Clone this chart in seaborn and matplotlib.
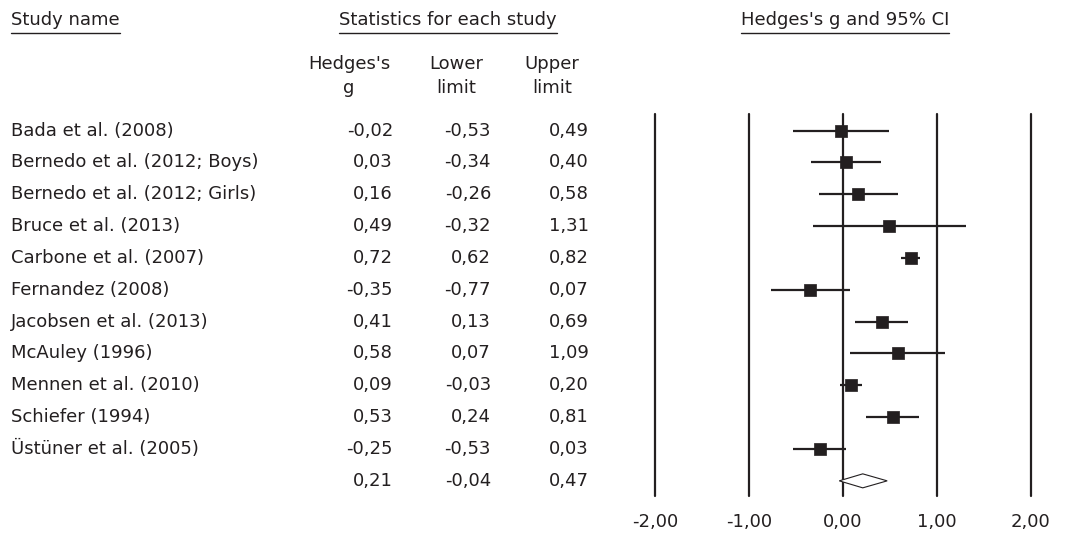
import matplotlib
matplotlib.use("Agg")
import matplotlib.pyplot as plt
import matplotlib.transforms as mtransforms
from matplotlib.lines import Line2D
from matplotlib.patches import Polygon
import seaborn as sns
import pandas as pd

# Study-level effect sizes (Hedges's g) with 95% confidence limits
studies = [
    "Bada et al. (2008)",
    "Bernedo et al. (2012; Boys)",
    "Bernedo et al. (2012; Girls)",
    "Bruce et al. (2013)",
    "Carbone et al. (2007)",
    "Fernandez (2008)",
    "Jacobsen et al. (2013)",
    "McAuley (1996)",
    "Mennen et al. (2010)",
    "Schiefer (1994)",
    "Üstüner et al. (2005)",
]
hedges_g = [-0.02, 0.03, 0.16, 0.49, 0.72, -0.35, 0.41, 0.58, 0.09, 0.53, -0.25]
lower = [-0.53, -0.34, -0.26, -0.32, 0.62, -0.77, 0.13, 0.07, -0.03, 0.24, -0.53]
upper = [0.49, 0.40, 0.58, 1.31, 0.82, 0.07, 0.69, 1.09, 0.20, 0.81, 0.03]

# Pooled estimate
pooled_g = 0.21
pooled_lower = -0.04
pooled_upper = 0.47

x_ticks = [-2, -1, 0, 1, 2]

W, H = 1072, 533
INK = "#231f20"
FS = 13

sns.set_theme(style="white")
plt.rcParams["font.family"] = ["DejaVu Sans"]
plt.rcParams["text.color"] = INK

fig = plt.figure(figsize=(W / 100, H / 100), dpi=100)
fig.patch.set_facecolor("white")

# Forest-plot panel, placed in pixel terms
ax_left, ax_right, ax_top, ax_bottom = 655, 1031, 114.3, 496
ax = fig.add_axes([ax_left / W, 1 - ax_bottom / H,
                   (ax_right - ax_left) / W, (ax_bottom - ax_top) / H])

row0, row_step = 130.5, 31.85
ax.set_xlim(-2, 2)
ax.set_ylim((ax_bottom - row0) / row_step, (ax_top - row0) / row_step)

df = pd.DataFrame({"study": studies, "g": hedges_g, "lo": lower, "hi": upper,
                   "row": range(len(studies))})

# Reference lines at each tick
for xv in x_ticks:
    ax.axvline(xv, color=INK, lw=1.6, zorder=1, clip_on=False)

# Confidence intervals and point estimates
ax.hlines(df["row"], df["lo"], df["hi"], color=INK, lw=1.6, zorder=2)
sns.scatterplot(data=df, x="g", y="row", marker="s", s=82, color=INK,
                edgecolor=INK, linewidth=0.5, ax=ax, legend=False, zorder=3)

# Summary diamond
prow = len(studies)
half = 7 / row_step
diamond = Polygon([(pooled_lower, prow), (pooled_g, prow - half),
                   (pooled_upper, prow), (pooled_g, prow + half)],
                  closed=True, facecolor="white", edgecolor=INK, lw=0.8, zorder=3)
ax.add_patch(diamond)

for s in ax.spines.values():
    s.set_visible(False)
ax.set_xticks(x_ticks)
ax.set_xticklabels([f"{v:.2f}".replace(".", ",") for v in x_ticks])
ax.tick_params(axis="x", length=0, pad=12, labelsize=FS, colors=INK)
ax.set_yticks([])
ax.set_xlabel("")
ax.set_ylabel("")

def fmt(v):
    return f"{v:.2f}".replace(".", ",")

# Table text: x in figure fraction, y in data rows
tr = mtransforms.blended_transform_factory(fig.transFigure, ax.transData)
col_name_x = 11
col_right = [393, 491, 589]

for i, name in enumerate(studies):
    ax.text(col_name_x / W, i, name, transform=tr, ha="left", va="center",
            fontsize=FS, color=INK, clip_on=False)
    for cx, v in zip(col_right, (hedges_g[i], lower[i], upper[i])):
        ax.text(cx / W, i, fmt(v), transform=tr, ha="right", va="center",
                fontsize=FS, color=INK, clip_on=False)
for cx, v in zip(col_right, (pooled_g, pooled_lower, pooled_upper)):
    ax.text(cx / W, prow, fmt(v), transform=tr, ha="right", va="center",
            fontsize=FS, color=INK, clip_on=False)

# Column headers
def ftext(x, y, s, ha="center"):
    return fig.text(x / W, 1 - y / H, s, ha=ha, va="center", fontsize=FS, color=INK)

renderer = fig.canvas.get_renderer()

def underline(t, y):
    bb = t.get_window_extent(renderer)
    fig.add_artist(Line2D([bb.x0 / W, bb.x1 / W], [1 - y / H, 1 - y / H],
                          transform=fig.transFigure, color=INK, lw=1.0))

underline(ftext(11, 20, "Study name", ha="left"), 32.5)
underline(ftext(448, 20, "Statistics for each study"), 32.5)
underline(ftext(845, 20, "Hedges's g and 95% CI"), 32.5)

ftext(349, 64, "Hedges's")
ftext(349, 88, "g")
ftext(456, 64, "Lower")
ftext(456, 88, "limit")
ftext(552, 64, "Upper")
ftext(552, 88, "limit")

fig.savefig("out.png", dpi=100, facecolor="white")
